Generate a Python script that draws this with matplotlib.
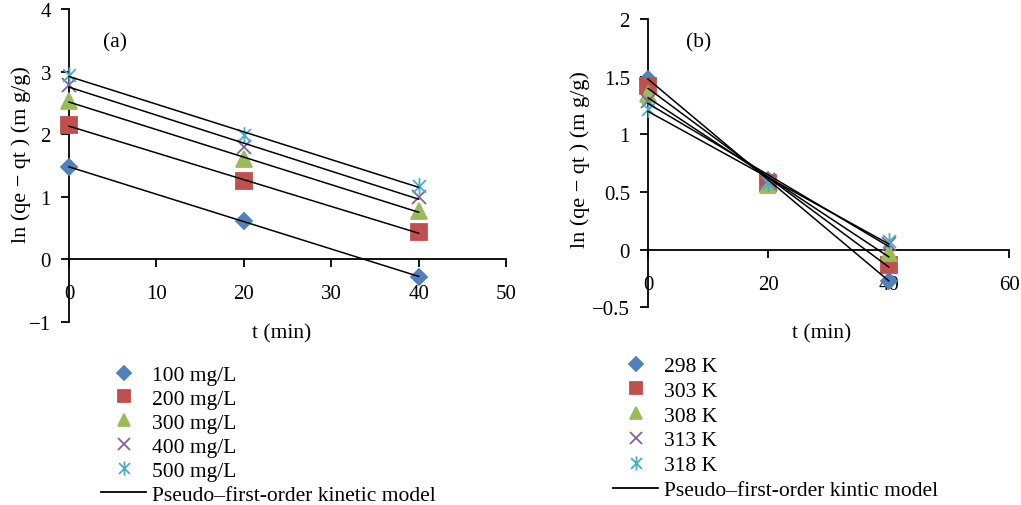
import numpy as np
import matplotlib.pyplot as plt
from matplotlib.path import Path
from matplotlib.lines import Line2D

plt.rcParams['font.family'] = ['Liberation Serif', 'DejaVu Serif']

# time points (min)
t = [0, 20, 40]

# (a) effect of initial concentration
conc_labels = ['100 mg/L', '200 mg/L', '300 mg/L', '400 mg/L', '500 mg/L']
conc_100 = [1.47, 0.62, -0.28]
conc_200 = [2.14, 1.25, 0.43]
conc_300 = [2.53, 1.60, 0.77]
conc_400 = [2.78, 1.80, 0.99]
conc_500 = [2.95, 1.98, 1.18]

# (b) effect of temperature
temp_labels = ['298 K', '303 K', '308 K', '313 K', '318 K']
temp_298 = [1.48, 0.60, -0.27]
temp_303 = [1.42, 0.58, -0.13]
temp_308 = [1.35, 0.56, -0.03]
temp_313 = [1.29, 0.60, 0.05]
temp_318 = [1.22, 0.58, 0.07]

colors = ['#4F81BD', '#C0504D', '#9BBB59', '#8064A2', '#4BACC6']
star = Path([(-1, -1), (1, 1), (-1, 1), (1, -1), (0, -1.3), (0, 1.3)],
            [Path.MOVETO, Path.LINETO] * 3)
markers = ['D', 's', '^', 'x', star]
msizes = [8, 11, 11, 10, 12]

fig = plt.figure(figsize=(10.21, 5.06), dpi=100)


def panel(ax, series, labels, xmax, xstep, ymin, ymax, ystep):
    for k, y in enumerate(series):
        ax.plot(t, y, linestyle='none', marker=markers[k], ms=msizes[k],
                color=colors[k], mec=colors[k], mew=1.3, clip_on=False,
                label=labels[k], zorder=3)
    # pseudo-first-order fits
    for y in series:
        p = np.polyfit(t, y, 1)
        tt = np.array([t[0], t[-1]])
        ax.plot(tt, np.polyval(p, tt), color='black', lw=1.1, clip_on=False,
                zorder=4)
    ax.set_xlim(0, xmax)
    ax.set_ylim(ymin, ymax)
    ax.set_xticks(np.arange(0, xmax + 1, xstep))
    ax.set_yticks(np.arange(ymin, ymax + 0.001, ystep))
    ax.spines['left'].set_position(('data', 0))
    ax.spines['bottom'].set_position(('data', 0))
    ax.spines['top'].set_visible(False)
    ax.spines['right'].set_visible(False)
    for s in ['left', 'bottom']:
        ax.spines[s].set_linewidth(1.3)
    ax.tick_params(axis='x', direction='out', length=6, width=1.3, pad=12,
                   labelsize=15)
    ax.tick_params(axis='y', direction='out', length=6, width=1.3, pad=7,
                   labelsize=15)
    ax.set_xlabel('t (min)', fontsize=15.5)
    ax.set_ylabel('ln (qe \u2212 qt ) (m g/g)', fontsize=16)


ax1 = fig.add_axes([0.0676, 0.3617, 0.428, 0.6186])
panel(ax1, [conc_100, conc_200, conc_300, conc_400, conc_500], conc_labels,
      50, 10, -1, 4, 1)
ax1.xaxis.set_label_coords(0.487, -0.005)
ax1.yaxis.set_label_coords(-0.088, 0.537)
ax1.text(0.105, 0.895, '(a)', transform=ax1.transAxes, fontsize=15.5,
         ha='center', va='center')

ax2 = fig.add_axes([0.6347, 0.391, 0.3536, 0.5695])
panel(ax2, [temp_298, temp_303, temp_308, temp_313, temp_318], temp_labels,
      60, 20, -0.5, 2, 0.5)
ax2.set_yticklabels(['\u22120.5', '0', '0.5', '1', '1.5', '2'])
ax2.xaxis.set_label_coords(0.482, -0.056)
ax2.yaxis.set_label_coords(-0.16, 0.514)
ax2.text(0.141, 0.92, '(b)', transform=ax2.transAxes, fontsize=15.5,
         ha='center', va='center')

fit_handle = Line2D([], [], color='black', lw=1.3)
for ax, anchor, name, sp in [(ax1, (0.0989, 0.2767), 'Pseudo\u2013first-order kinetic model', 0.18),
                             (ax2, (0.6004, 0.2945), 'Pseudo\u2013first-order kintic model', 0.22)]:
    h, l = ax.get_legend_handles_labels()
    fig.legend(h + [fit_handle], l + [name], loc='upper left',
               bbox_to_anchor=anchor, frameon=False, fontsize=15.5,
               borderpad=0, borderaxespad=0, handlelength=2.1,
               handletextpad=0.25, labelspacing=sp, numpoints=1,
               markerscale=0.85)

fig.savefig('out.png', dpi=100)
